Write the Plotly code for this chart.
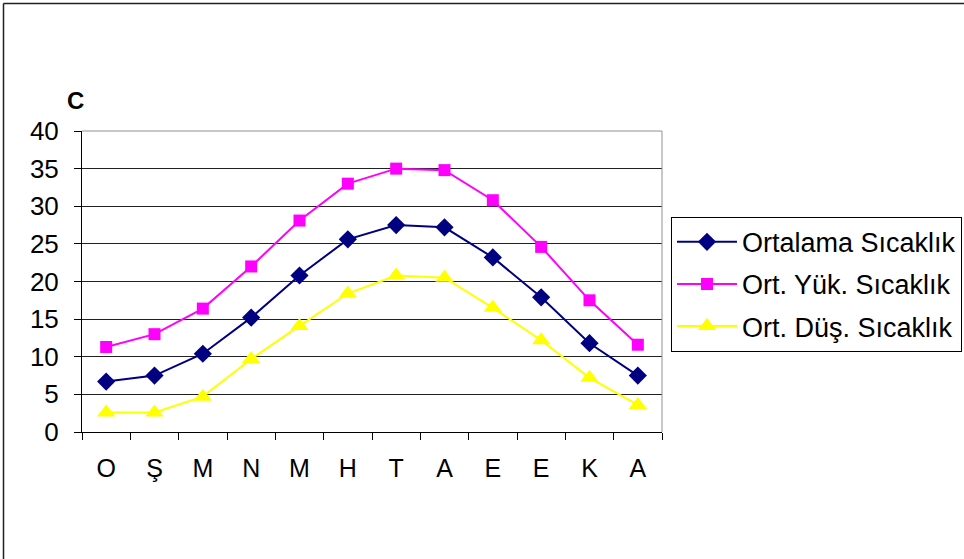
import plotly.graph_objects as go

# Monthly temperature data (°C)
months = ["O", "Ş", "M", "N", "M ", "H", "T", "A", "E", "E ", "K", "A "]
tick_text = ["O", "Ş", "M", "N", "M", "H", "T", "A", "E", "E", "K", "A"]
avg_temp = [6.7, 7.5, 10.4, 15.2, 20.8, 25.6, 27.5, 27.2, 23.2, 17.9, 11.8, 7.5]
avg_high = [11.3, 13.0, 16.4, 22.0, 28.1, 33.0, 35.0, 34.8, 30.8, 24.6, 17.5, 11.6]
avg_low = [2.6, 2.6, 4.7, 9.7, 14.1, 18.4, 20.8, 20.5, 16.5, 12.2, 7.2, 3.6]

series_names = ["Ortalama Sıcaklık", "Ort. Yük. Sıcaklık", "Ort. Düş. Sıcaklık"]

FONT = "Liberation Sans, Arial, sans-serif"

fig = go.Figure()
fig.add_trace(go.Scatter(
    x=months, y=avg_temp, name=series_names[0], mode="lines+markers",
    legendgroup="g1",
    line=dict(color="#000080", width=2),
    marker=dict(symbol="diamond", size=14, color="#000080"),
))
fig.add_trace(go.Scatter(
    x=months, y=avg_high, name=series_names[1], mode="lines+markers",
    legendgroup="g2",
    line=dict(color="#FF00FF", width=2),
    marker=dict(symbol="square", size=12, color="#FF00FF"),
))
fig.add_trace(go.Scatter(
    x=months, y=avg_low, name=series_names[2], mode="lines+markers",
    legendgroup="g3",
    line=dict(color="#FFFF00", width=2),
    marker=dict(symbol="triangle-up", size=16, color="#FFFF00"),
))

fig.update_layout(
    width=964, height=559,
    margin=dict(l=82, r=302, t=131, b=127, autoexpand=False),
    paper_bgcolor="white", plot_bgcolor="white",
    font=dict(family=FONT, size=26, color="black"),
    showlegend=True,
    legend=dict(
        x=1.0155, y=0.715, xanchor="left", yanchor="top",
        bordercolor="black", borderwidth=1, bgcolor="white",
        font=dict(family=FONT, size=27, color="black"),
        itemwidth=60, traceorder="grouped", tracegroupgap=4,
    ),
    xaxis=dict(
        type="category", categoryorder="array", categoryarray=months,
        tickvals=months, ticktext=tick_text,
        tickson="boundaries", ticks="outside", ticklen=7, tickcolor="black",
        showline=True, linecolor="black", linewidth=1,
        showgrid=False, zeroline=False,
        range=[-0.5, 11.5], ticklabelstandoff=14,
        tickfont=dict(family=FONT, size=25),
    ),
    yaxis=dict(
        range=[0, 40], dtick=5, tick0=0,
        ticks="outside", ticklen=7, tickcolor="black",
        showline=True, linecolor="black", linewidth=1,
        showgrid=True, gridcolor="#202020", gridwidth=1,
        zeroline=False, ticklabelstandoff=10,
        tickfont=dict(family=FONT, size=26),
    ),
    shapes=[
        # grey top and right edges of the plot area
        dict(type="line", xref="paper", yref="paper", x0=0, x1=1, y0=1, y1=1,
             line=dict(color="#909090", width=1)),
        dict(type="line", xref="paper", yref="paper", x0=1, x1=1, y0=0, y1=1,
             line=dict(color="#909090", width=1)),
        # chart frame
        dict(type="line", xref="paper", yref="paper",
             x0=(3.5 - 82) / 580, x1=(1000 - 82) / 580,
             y0=(432 - 3.5) / 301, y1=(432 - 3.5) / 301,
             line=dict(color="#202020", width=1.5)),
        dict(type="line", xref="paper", yref="paper",
             x0=(3.5 - 82) / 580, x1=(3.5 - 82) / 580,
             y0=(432 - 3.5) / 301, y1=(432 - 600) / 301,
             line=dict(color="#202020", width=1.5)),
    ],
    annotations=[
        dict(text="<b>C</b>", xref="paper", yref="paper",
             x=(75.5 - 82) / 580, y=(432 - 100.5) / 301,
             xanchor="center", yanchor="middle", showarrow=False,
             font=dict(family=FONT, size=24, color="black")),
    ],
)

fig.write_html("out.html")
